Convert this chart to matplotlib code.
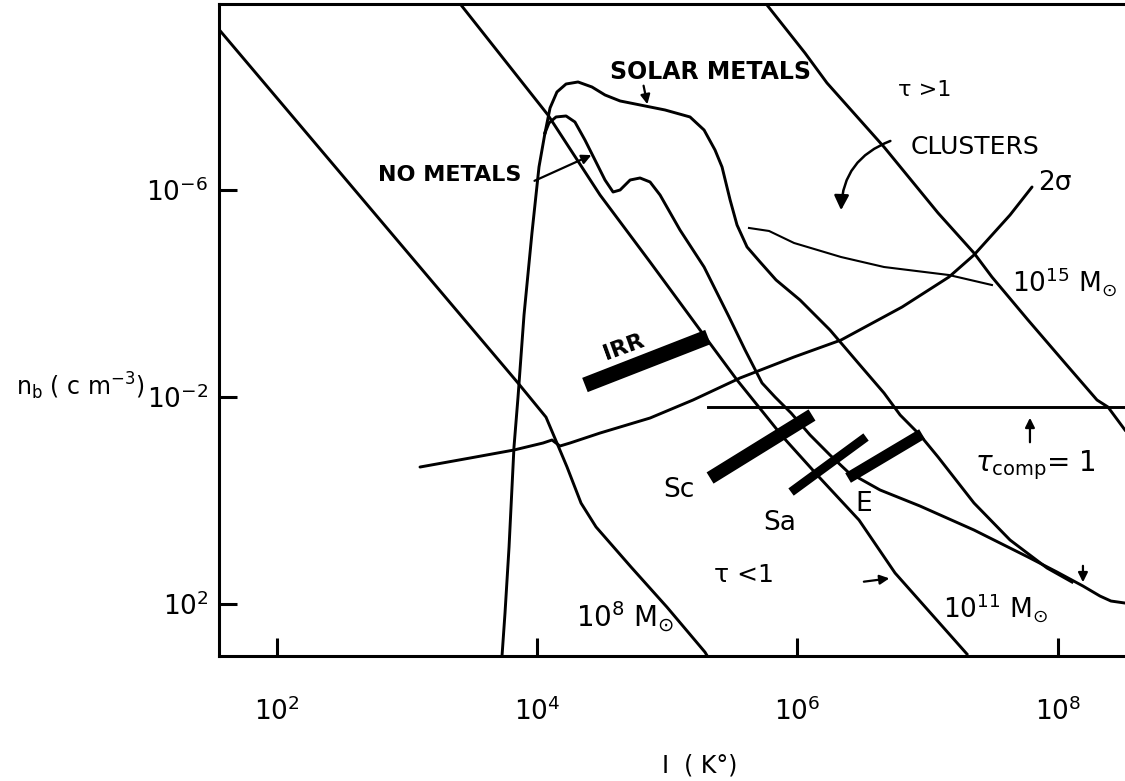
import numpy as np
import matplotlib.pyplot as plt
from matplotlib.ticker import NullLocator

plt.rcParams['font.family'] = ['DejaVu Sans']
plt.rcParams['mathtext.fontset'] = 'dejavusans'

# every value below is log10 T [K] and log10 n_b [cm^-3]

# lines of constant mass
m8_t = [1.562, 3.855, 4.07, 4.154, 4.231, 4.339, 4.454, 4.723, 4.999, 5.291, 5.31]
m8_n = [-9.09, -2.27, -1.61, -1.11, -0.65, 0.05, 0.51, 1.285, 2.06, 2.93, 3.01]

m11_t = [3.417, 4.085, 4.485, 4.869, 5.253, 5.537, 5.89, 6.167, 6.474, 6.751, 7.303]
m11_n = [-9.575, -7.449, -5.903, -4.609, -3.295, -2.329, -1.227, -0.454, 0.377, 1.401, 2.966]

m15_t = [5.767, 6.059, 6.228, 6.666, 7.081, 7.357, 7.495, 7.772, 8.056, 8.302, 8.386, 8.517]
m15_n = [-9.575, -8.647, -8.068, -6.831, -5.556, -4.783, -4.319, -3.488, -2.657, -1.942, -1.807, -1.362]

# cooling curves: shared steep edge near 10^4 K, then the two branches
edge_t = [3.732, 3.755, 3.786, 3.824, 3.855, 3.901, 3.962, 4.016, 4.062]
edge_n = [3.005, 2.174, 0.899, -1.034, -2.0, -3.585, -5.169, -6.444, -7.101]

solar_t = [4.062, 4.101, 4.154, 4.224, 4.316, 4.423, 4.523, 4.639, 4.792, 4.984, 5.176,
           5.284, 5.368, 5.422, 5.484, 5.537, 5.614, 5.714, 5.837, 6.021, 6.251, 6.481,
           6.666, 6.79, 6.942, 7.081, 7.357, 7.634, 7.918, 8.11]
solar_n = [-7.101, -7.585, -7.894, -8.048, -8.087, -7.99, -7.836, -7.72, -7.643, -7.546, -7.411,
           -7.159, -6.773, -6.444, -5.807, -5.324, -4.899, -4.609, -4.261, -3.874, -3.295, -2.618,
           -2.077, -1.652, -1.266, -0.841, 0.048, 0.763, 1.304, 1.575]

nomet_t = [4.062, 4.093, 4.147, 4.224, 4.292, 4.369, 4.446, 4.523, 4.585, 4.639, 4.716,
           4.792, 4.869, 4.946, 5.099, 5.284, 5.476, 5.599, 5.729, 5.829, 5.952, 6.098,
           6.251, 6.39, 6.636, 6.942, 7.357, 7.772, 7.995, 8.194, 8.325, 8.409, 8.517]
nomet_n = [-7.101, -7.295, -7.411, -7.43, -7.314, -6.966, -6.58, -6.193, -5.961, -6.0, -6.193,
           -6.232, -6.155, -5.903, -5.227, -4.512, -3.546, -2.908, -2.271, -2.0, -1.691, -1.266,
           -0.879, -0.55, -0.203, 0.106, 0.57, 1.092, 1.382, 1.652, 1.846, 1.942, 1.981]

# 2 sigma virialised objects
sig2_t = [3.102, 3.486, 3.824, 4.047, 4.116, 4.177, 4.254, 4.485, 4.869, 5.199, 5.56,
          5.975, 6.336, 6.805, 7.165, 7.357, 7.634, 7.803]
sig2_n = [-0.647, -0.821, -0.976, -1.111, -1.169, -1.053, -1.111, -1.304, -1.594, -1.942, -2.367,
          -2.773, -3.101, -3.739, -4.319, -4.744, -5.517, -6.058]

clusters_t = [5.629, 5.783, 5.975, 6.336, 6.666, 7.165, 7.495]
clusters_n = [-5.266, -5.208, -4.976, -4.705, -4.512, -4.357, -4.164]

tcomp_t = [5.314, 8.517]
tcomp_n = [-1.807, -1.807]

# observed galaxies: (name, T0, n0, T1, n1)
galaxies = [
    ('IRR', 4.369, -2.232, 5.314, -3.159),
    ('Sc', 5.33, -0.435, 6.113, -1.652),
    ('Sa', 5.952, -0.164, 6.528, -1.227),
    ('E', 6.39, -0.435, 6.958, -1.285),
]
bar_widths = [11, 9.5, 6.5, 8]

x_ticks = [2, 4, 6, 8]
y_ticks = [-6, -2, 2]


def P(a):
    return 10 ** np.asarray(a, dtype=float)


fig = plt.figure(figsize=(11.25, 7.81), dpi=100)
ax = fig.add_axes([0.1951, 0.1600, 0.8049, 0.8349])
ax.set_xscale('log')
ax.set_yscale('log')
ax.set_xlim(P(1.562), P(8.517))
ax.set_ylim(P(3.005), P(-9.594))

lw = 2.1
for t, n in [(m8_t, m8_n), (m11_t, m11_n), (m15_t, m15_n), (edge_t, edge_n),
             (solar_t, solar_n), (nomet_t, nomet_n), (tcomp_t, tcomp_n)]:
    ax.plot(P(t), P(n), color='black', lw=lw, solid_joinstyle='round')
ax.plot(P(sig2_t), P(sig2_n), color='black', lw=lw, solid_capstyle='round')
ax.plot(P(clusters_t), P(clusters_n), color='black', lw=1.5)

for (name, t0, n0, t1, n1), w in zip(galaxies, bar_widths):
    ax.plot(P([t0, t1]), P([n0, n1]), color='black', lw=w, solid_capstyle='butt')

arrow = dict(arrowstyle='-|>', color='black', lw=1.6, mutation_scale=14)
ax.annotate('', xy=P([4.438, -6.696]), xytext=P([3.962, -6.155]), arrowprops=arrow)
ax.annotate('', xy=P([4.853, -7.604]), xytext=P([4.815, -8.068]), arrowprops=arrow)
ax.annotate('', xy=P([6.336, -5.556]), xytext=P([6.735, -6.966]),
            arrowprops=dict(arrowstyle='-|>', color='black', lw=1.8, mutation_scale=22,
                            connectionstyle='arc3,rad=0.35'))
ax.annotate('', xy=P([7.787, -1.652]), xytext=P([7.787, -1.072]), arrowprops=arrow)
ax.annotate('', xy=P([8.194, 1.633]), xytext=P([8.194, 1.208]), arrowprops=arrow)
ax.annotate('', xy=P([6.728, 1.498]), xytext=P([6.49, 1.575]), arrowprops=arrow)


def label(t, n, s, **kw):
    kw.setdefault('fontsize', 18)
    ax.text(10 ** t, 10 ** n, s, ha='center', va='center', **kw)


label(5.337, -8.28, 'SOLAR METALS', fontsize=17, fontweight='bold')
label(3.333, -6.29, 'NO METALS', fontsize=16, fontweight='bold')
label(6.98, -7.93, 'τ >1', fontsize=16)
label(7.365, -6.83, 'CLUSTERS', fontsize=18)
label(7.98, -6.135, '2σ', fontsize=19)
label(8.056, -4.22, r'$10^{15}$ M$_{\odot}$', fontsize=19)
label(4.669, -2.966, 'IRR', fontsize=16, fontweight='bold', rotation=20)
label(5.091, -0.203, 'Sc', fontsize=19)
label(5.867, 0.435, 'Sa', fontsize=19)
label(6.512, 0.068, 'E', fontsize=19)
label(7.826, -0.686, r'$\tau_{\rm comp}$= 1', fontsize=20)
label(5.591, 1.44, 'τ <1', fontsize=18)
label(4.677, 2.251, r'$10^{8}$ M$_{\odot}$', fontsize=20)
label(7.526, 2.077, r'$10^{11}$ M$_{\odot}$', fontsize=19)

ax.set_xticks(P(x_ticks))
ax.set_xticklabels([r'$10^{%d}$' % v for v in x_ticks])
ax.set_yticks(P(y_ticks))
ax.set_yticklabels([r'$10^{%d}$' % v for v in y_ticks])
ax.xaxis.set_minor_locator(NullLocator())
ax.yaxis.set_minor_locator(NullLocator())
ax.tick_params(direction='in', length=13, width=2.2, labelsize=19)
ax.tick_params(axis='x', pad=30)
ax.tick_params(axis='y', pad=8)

for side in ['left', 'bottom', 'top']:
    ax.spines[side].set_linewidth(2.2)
ax.spines['right'].set_visible(False)

fig.text(700 / 1125, 1 - 766 / 781, 'I  ( K°)', fontsize=17, ha='center', va='center')
fig.text(16 / 1125, 1 - 395 / 781, r'n$_{\rm b}$ ( c m$^{-3}$)', fontsize=17,
         ha='left', va='baseline')

fig.savefig('out.png', dpi=100)
